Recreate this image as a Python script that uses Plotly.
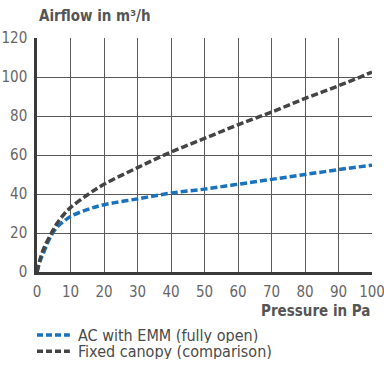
import plotly.graph_objects as go

# Pressure in Pa
pressure = [0, 1, 2, 4, 6, 8, 10, 15, 20, 30, 40, 50, 60, 70, 80, 90, 100]
# Airflow in m3/h
ac_emm = [0, 6, 10, 18, 23, 26, 28.5, 32, 34.5, 37.5, 40.5, 42.5, 45, 47.5, 50, 52.5, 54.8]
fixed_canopy = [0, 7, 12, 19, 25, 29.5, 33, 39.5, 45, 53.5, 61.5, 68.5, 75.5, 82, 89, 95.5, 102.5]
series_names = ["AC with EMM (fully open)", "Fixed canopy (comparison)"]
series_colors = ["#1a72bd", "#444444"]

font_family = "DejaVu Sans Condensed, Roboto, Arial"
text_col = "#555555"
dash = "7px,3px"

fig = go.Figure()
for yvals, name, col in zip([ac_emm, fixed_canopy], series_names, series_colors):
    fig.add_trace(go.Scatter(x=pressure, y=yvals, mode="lines", line_shape="spline",
                             name=name, showlegend=False,
                             line=dict(color=col, width=3.5, dash=dash)))

axis_style = dict(showgrid=True, gridcolor="#5a5a5a", gridwidth=1.3,
                  showline=True, linecolor="#3a3a3a", linewidth=2.5,
                  zeroline=False, ticks="", automargin=False, ticklabeloverflow="allow",
                  tickfont=dict(size=15, color="#666666"))
fig.update_xaxes(range=[0, 100], dtick=10, ticklabelstandoff=4, **axis_style)
fig.update_yaxes(range=[0, 120], dtick=20, ticklabelstandoff=4, **axis_style)

fig.add_annotation(text="<b>Airflow in m³/h</b>", xref="paper", yref="paper", x=0, y=1,
                   yshift=11, xanchor="left", yanchor="bottom", showarrow=False,
                   font=dict(size=15, color=text_col, family=font_family))
fig.add_annotation(text="<b>Pressure in Pa</b>", xref="paper", yref="paper", x=1.0, y=0,
                   yshift=-28, xanchor="right", yanchor="top", showarrow=False,
                   font=dict(size=15, color=text_col, family=font_family))

# legend drawn by hand for tight line spacing
for i, (name, col) in enumerate(zip(series_names, series_colors)):
    ly = -0.269 - i * 0.07
    fig.add_shape(type="line", xref="paper", yref="paper", x0=0, x1=0.098, y0=ly, y1=ly,
                  line=dict(color=col, width=3.5, dash="6px,3px"))
    fig.add_annotation(text=name, xref="paper", yref="paper", x=0.12, y=ly,
                       xanchor="left", yanchor="middle", showarrow=False, borderpad=0,
                       height=16, valign="middle",
                       font=dict(size=16, color="#4a4a4a", family=font_family))

fig.update_layout(
    width=384, height=365,
    margin=dict(l=37, r=12, t=38, b=93),
    plot_bgcolor="white", paper_bgcolor="white",
    font=dict(family=font_family, color=text_col),
    showlegend=False,
)

# drop the browser's default 8px body margin so the figure sits at the window corner
fig.write_html("out.html", config={"displayModeBar": False},
               post_script="document.body.style.margin='0';")
